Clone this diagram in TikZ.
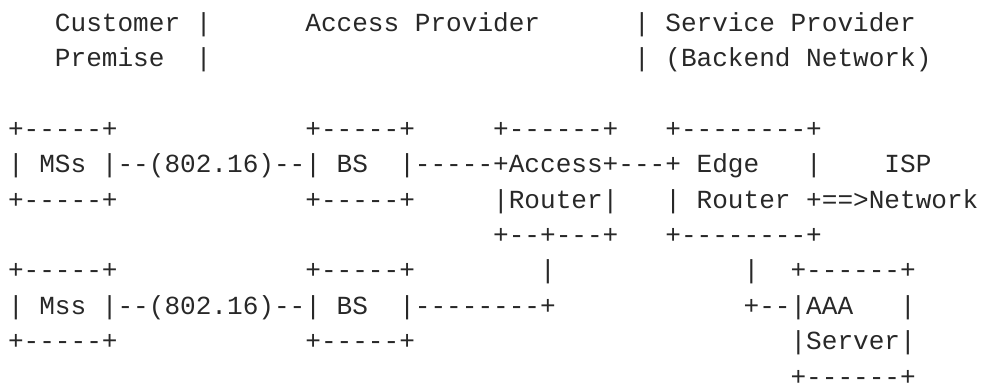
\documentclass[tikz,border=0pt]{standalone}
\usepackage{fontspec}
\setmonofont{Liberation Mono}
\definecolor{ink}{RGB}{40,40,40}
\tikzset{
  txt/.style={anchor=base west, inner sep=0pt, outer sep=0pt, text=ink,
    font=\ttfamily\fontsize{13pt}{15pt}\selectfont}
}
% #1 name, #2 column, #3 row, #4 text
\newcommand\seg[4]{\node[txt] (#1) at ({3.99pt+#2*7.8pt},{-15.70pt-(#3-1)*17.62pt}) {#4};}
\begin{document}
\begin{tikzpicture}
\useasboundingbox (0,0) rectangle (489.9pt,-190.9pt);
% row 1
\seg{cust}{3}{1}{Customer}
\seg{d1a}{12}{1}{|}
\seg{ap}{19}{1}{Access Provider}
\seg{d1b}{40}{1}{|}
\seg{sp}{42}{1}{Service Provider}
% row 2
\seg{prem}{3}{2}{Premise}
\seg{d2a}{12}{2}{|}
\seg{d2b}{40}{2}{|}
\seg{bn}{42}{2}{(Backend Network)}
% row 4
\seg{msat}{0}{4}{+-----+}
\seg{bsat}{19}{4}{+-----+}
\seg{art}{31}{4}{+------+}
\seg{ert}{42}{4}{+--------+}
% row 5
\seg{msa}{0}{5}{| MSs |}
\seg{la}{7}{5}{--(802.16)--}
\seg{bsa}{19}{5}{| BS\ \ |}
\seg{ca}{26}{5}{-----}
\seg{arm}{31}{5}{+Access+}
\seg{cb}{39}{5}{---}
\seg{erm}{42}{5}{+ Edge}
\seg{ermr}{51}{5}{|}
\seg{isp}{56}{5}{ISP}
% row 6
\seg{msab}{0}{6}{+-----+}
\seg{bsab}{19}{6}{+-----+}
\seg{arr}{31}{6}{|Router|}
\seg{err}{42}{6}{| Router +==>Network}
% row 7
\seg{arb}{31}{7}{+--+---+}
\seg{erb}{42}{7}{+--------+}
% row 8
\seg{msbt}{0}{8}{+-----+}
\seg{bsbt}{19}{8}{+-----+}
\seg{va}{34}{8}{|}
\seg{vb}{47}{8}{|}
\seg{aaat}{50}{8}{+------+}
% row 9
\seg{msb}{0}{9}{| Mss |}
\seg{lb}{7}{9}{--(802.16)--}
\seg{bsb}{19}{9}{| BS\ \ |}
\seg{cc}{26}{9}{--------+}
\seg{cd}{47}{9}{+--}
\seg{aaa}{50}{9}{|AAA}
\seg{aaar}{57}{9}{|}
% row 10
\seg{msbb}{0}{10}{+-----+}
\seg{bsbb}{19}{10}{+-----+}
\seg{srv}{50}{10}{|Server|}
% row 11
\seg{aaab}{50}{11}{+------+}
\end{tikzpicture}
\end{document}
